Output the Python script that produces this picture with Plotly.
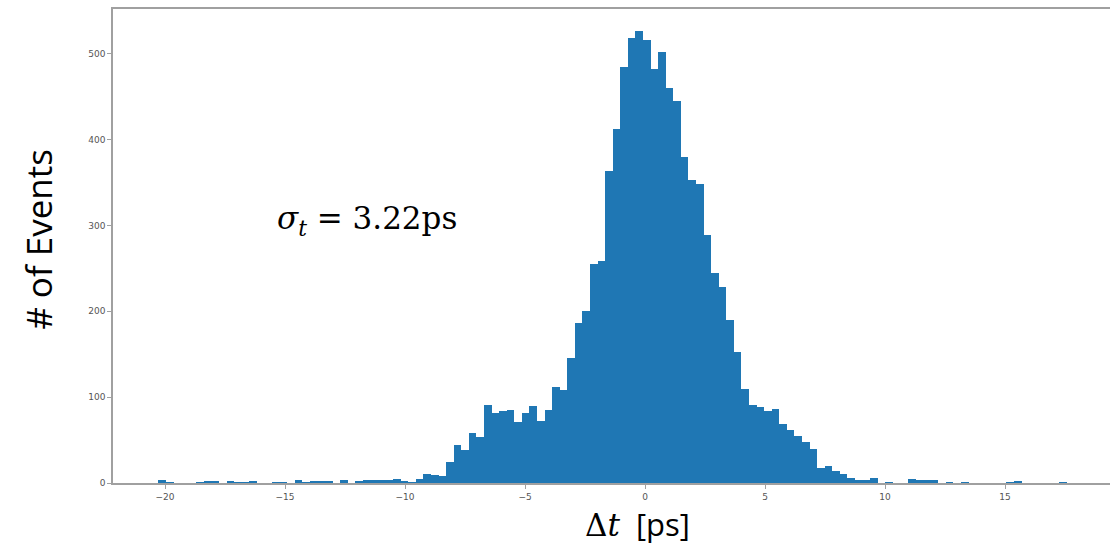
import plotly.graph_objects as go

# Histogram of time differences
bin_start = -20.28
bin_width = 0.3155
counts = [
    3, 1, 0, 0, 0, 1, 2, 2, 0, 2,
    1, 1, 2, 0, 0, 1, 1, 0, 3, 1,
    2, 2, 2, 0, 3, 0, 2, 4, 4, 4,
    4, 5, 2, 1, 5, 10, 9, 8, 24, 44,
    39, 58, 53, 91, 81, 84, 85, 71, 81, 90,
    72, 85, 112, 108, 145, 186, 200, 255, 259, 363,
    412, 484, 518, 526, 516, 482, 502, 460, 445, 380,
    353, 348, 289, 244, 228, 190, 152, 110, 91, 88,
    84, 86, 69, 62, 55, 48, 40, 18, 20, 14,
    11, 6, 4, 3, 6, 0, 1, 0, 0, 5,
    3, 3, 3, 0, 1, 0, 1, 0, 0, 0,
    0, 0, 1, 2, 0, 0, 0, 0, 0, 1,
]
x_ticks = [-20, -15, -10, -5, 0, 5, 10, 15]
y_ticks = [0, 100, 200, 300, 400, 500]

centers = [bin_start + bin_width * (i + 0.5) for i in range(len(counts))]

fig = go.Figure()
fig.add_trace(go.Bar(
    x=centers, y=counts, width=[bin_width] * len(counts),
    marker=dict(color="#1f77b4", line=dict(width=0)),
    hoverinfo="x+y",
))

axis_color = "#a0a0a0"
fig.update_layout(
    width=1110, height=544,
    margin=dict(l=113, r=0, t=9, b=61),
    paper_bgcolor="white", plot_bgcolor="white",
    showlegend=False, bargap=0,
    xaxis=dict(
        range=[-22.17, 19.375], tickvals=x_ticks,
        showgrid=False, zeroline=False,
        showline=True, linecolor=axis_color, linewidth=1.5, mirror=True,
        ticks="outside", ticklen=4, tickcolor=axis_color, tickwidth=1,
        tickfont=dict(family="DejaVu Sans", size=9, color="#555555"),
    ),
    yaxis=dict(
        range=[0, 552], tickvals=y_ticks,
        showgrid=False, zeroline=False,
        showline=True, linecolor=axis_color, linewidth=1.5,
        ticks="outside", ticklen=4, tickcolor=axis_color, tickwidth=1,
        tickfont=dict(family="DejaVu Sans", size=9, color="#555555"),
    ),
    annotations=[
        dict(text="# of Events", textangle=-90, xref="paper", yref="paper",
             x=-0.0742, y=0.513, xanchor="center", yanchor="middle",
             showarrow=False, font=dict(family="Open Sans", size=35, color="black")),
        dict(text="<span style=\"font-family:'DejaVu Serif'\">Δ<i>t</i></span>\u00a0 [ps]",
             xref="paper", yref="paper", x=0.5256, y=-0.086,
             xanchor="center", yanchor="middle",
             showarrow=False, font=dict(family="Open Sans", size=31, color="black")),
        dict(text="<i>σ</i><sub><i>t</i></sub> = 3.22ps",
             xref="paper", yref="paper", x=0.2548, y=0.553,
             xanchor="center", yanchor="middle",
             showarrow=False, font=dict(family="DejaVu Serif", size=31, color="black")),
    ],
)

fig.write_html("out.html")
